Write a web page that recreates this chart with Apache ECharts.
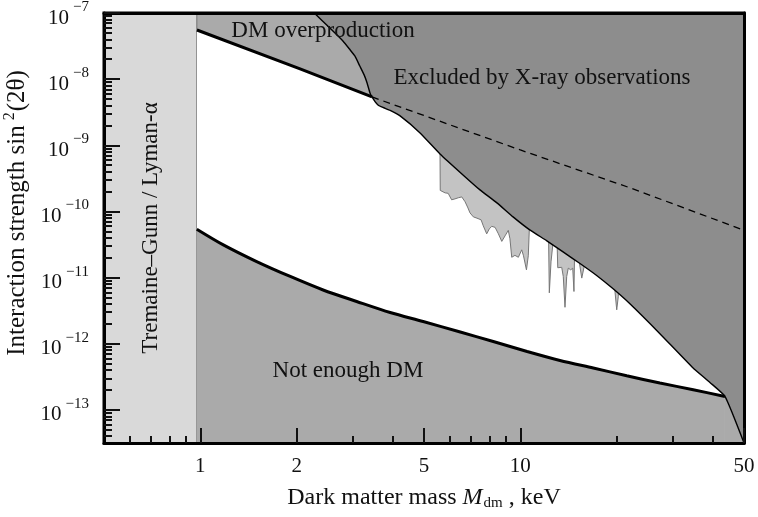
<!DOCTYPE html>
<html>
<head>
<meta charset="utf-8">
<script src="https://cdn.jsdelivr.net/npm/echarts@6/dist/echarts.min.js"></script>
<style>
  html, body { margin: 0; padding: 0; background: #fff; }
  #chart { width: 758px; height: 517px; }
</style>
</head>
<body>
<div id="chart"></div>
<script>
// Sterile-neutrino dark matter: allowed window in mass vs. mixing-angle plane (log-log)

const massRange = [0.5, 50];              // keV
const strengthRange = [3.162e-14, 1e-7];  // sin^2(2θ)
const tremaineGunnLimit = 0.975;          // keV

// Upper production curve (too much dark matter above it)
const overproductionMass = [0.976, 2.05, 3.44, 10, 22, 50];
const overproductionStrength = [5.53e-8, 1.43e-8, 5.38e-9, 8.5e-10, 2.28e-10, 5.2e-11];
const overproductionSolidCount = 3;       // solid up to the X-ray bound, dashed beyond

// Lower production curve (not enough dark matter below it)
const underproductionMass = [0.975, 1.18, 1.5, 1.91, 2.42, 3.08, 3.92, 4.97, 6.45, 8.23,
  10.5, 13.3, 16.9, 21.5, 27.3, 34.7, 43.6];
const underproductionStrength = [5.4e-11, 3.13e-11, 1.75e-11, 1.04e-11, 6.5e-12, 4.36e-12,
  2.97e-12, 2.17e-12, 1.52e-12, 1.08e-12, 7.65e-13, 5.6e-13, 4.3e-13, 3.29e-13, 2.55e-13,
  2.02e-13, 1.6e-13];

// X-ray exclusion boundary
const xrayMass = [2.27, 2.54, 2.79, 2.94, 3.04, 3.15, 3.25, 3.32, 3.39, 3.44, 3.52, 3.59,
  3.72, 3.92, 4.21, 4.86, 5.61, 6.62, 7.48, 8.45, 9.49, 10.7, 12.1, 13.6, 15.4, 17.4, 19.5,
  22.0, 27.3, 34.6, 39.2, 43.6, 50];
const xrayStrength = [1e-7, 5.93e-8, 3.78e-8, 2.76e-8, 2.24e-8, 1.58e-8, 1.16e-8, 8.77e-9,
  6.19e-9, 5.38e-9, 4.53e-9, 4.07e-9, 3.74e-9, 3.37e-9, 2.78e-9, 1.54e-9, 7.41e-10, 3.57e-10,
  2.12e-10, 1.35e-10, 8.29e-11, 5.27e-11, 3.6e-11, 2.45e-11, 1.62e-11, 1.06e-11, 6.77e-12,
  4.02e-12, 1.42e-12, 4.34e-13, 2.58e-13, 1.6e-13, 3.162e-14];

// Line-search exclusion (spiky lower edge)
const lineMass = [5.61, 5.62, 5.82, 5.95, 6.10, 6.25, 6.40, 6.56, 6.72, 6.86, 6.96, 7.13,
  7.32, 7.54, 7.66, 7.85, 8.00, 8.14, 8.34, 8.54, 8.75, 8.96, 9.17, 9.28, 9.40, 9.62, 9.86,
  10.1, 10.23, 10.45, 10.59, 10.67, 10.7, 11.52, 12.25, 12.32, 12.47, 12.68, 13.02, 13.09,
  13.47, 13.62, 13.79, 13.96, 14.12, 14.37, 14.58, 14.71, 14.77, 15.25, 15.31, 15.56, 15.81,
  15.87, 19.70, 19.77, 20.01, 20.24, 20.27];
const lineStrength = [8.52e-10, 2.08e-10, 1.91e-10, 1.88e-10, 1.50e-10, 1.55e-10, 1.61e-10,
  1.66e-10, 1.40e-10, 1.13e-10, 9.53e-11, 8.29e-11, 7.92e-11, 7.47e-11, 6.06e-11, 4.59e-11,
  5.46e-11, 5.96e-11, 5.75e-11, 4.59e-11, 3.53e-11, 4.28e-11, 5.18e-11, 3.86e-11, 2.03e-11,
  2.17e-11, 2.03e-11, 2.63e-11, 2.14e-11, 1.31e-11, 2.14e-11, 5.46e-11, 8.88e-11, 6.28e-11,
  4.43e-11, 5.89e-12, 1.73e-11, 3.72e-11, 3.72e-11, 1.41e-11, 1.43e-11, 1.04e-11, 3.56e-12,
  1.04e-11, 1.39e-11, 1.31e-11, 1.39e-11, 6.17e-12, 2.21e-11, 2.06e-11, 1.62e-11, 9.83e-12,
  1.43e-11, 1.73e-11, 8.35e-12, 6.0e-12, 3.26e-12, 5.22e-12, 7.01e-12];

// Axis ticks
const xTickLabels = [1, 2, 5, 10, 50];
const xMinorTicks = [0.6, 0.7, 0.8, 0.9, 3, 4, 6, 7, 8, 9, 20, 30, 40];
const yTickPowers = [-13, -12, -11, -10, -9, -8, -7];
const yMinorFactors = [2, 3, 4, 5, 6, 7, 8, 9];

// Both axes are logarithmic: values are plotted by their base-10 logarithm.
const lg = Math.log10;
const pairs = (xs, ys) => xs.map((x, i) => [lg(x), lg(ys[i])]);

const yMin = lg(strengthRange[0]), yMax = lg(strengthRange[1]);
const yMinorTicks = [];
for (let p = -14; p < -7; p++) {
  yMinorFactors.forEach(k => {
    const v = p + lg(k);
    if (v > yMin && v < yMax) yMinorTicks.push(v);
  });
}

const SERIF = '"Liberation Serif", "Times New Roman", serif';
const INK = '#111';
const C_MID = '#aaaaaa', C_DARK = '#8d8d8d', C_LIGHT = '#d9d9d9', C_LINE = '#c3c3c3';

const xBase = {
  type: 'value', min: lg(massRange[0]), max: lg(massRange[1]),
  splitLine: { show: false }, z: 10
};
const yBase = {
  type: 'value', min: yMin, max: yMax,
  splitLine: { show: false }, z: 10
};
const frameLine = { show: true, onZero: false, lineStyle: { color: '#000', width: 3 } };
const noLine = { show: false, onZero: false };

const chart = echarts.init(document.getElementById('chart'), null, { renderer: 'canvas' });

const lineSeries = (data, style, z, smooth) => ({
  type: 'line', data, symbol: 'none', showSymbol: false, silent: true,
  smooth: smooth || false,
  lineStyle: style, z, animation: false
});
const fillSeries = (data, color, origin, z, smooth, extra) => Object.assign({
  type: 'line', data, symbol: 'none', showSymbol: false, silent: true,
  smooth: smooth || false,
  lineStyle: { opacity: 0 }, areaStyle: { color, opacity: 1, origin }, z, animation: false
}, extra || {});

const overPts = pairs(overproductionMass, overproductionStrength);
const underPts = pairs(underproductionMass, underproductionStrength);
const xrayPts = pairs(xrayMass, xrayStrength);
const SMOOTH_LOW = 0.3, SMOOTH_XRAY = 0.15;

chart.setOption({
  animation: false,
  backgroundColor: '#fff',
  grid: {
    left: 104, right: 14, top: 13, bottom: 74,
    outerBoundsMode: 'none', containLabel: false,
    show: true, backgroundColor: C_MID, borderColor: '#000', borderWidth: 3
  },
  xAxis: [
    Object.assign({}, xBase, {
      position: 'bottom',
      axisLine: frameLine,
      axisTick: { show: true, inside: true, length: 15, lineStyle: { color: INK, width: 2 },
        customValues: xTickLabels.map(lg) },
      axisLabel: { show: true, customValues: xTickLabels.map(lg), margin: 13,
        formatter: v => String(Math.round(Math.pow(10, v))),
        color: INK, fontFamily: SERIF, fontSize: 21 },
      name: 'Dark matter mass {i|M}{s|dm} , keV',
      nameLocation: 'middle', nameGap: 41,
      nameTextStyle: {
        color: INK, fontFamily: SERIF, fontSize: 24,
        rich: {
          i: { color: INK, fontFamily: SERIF, fontSize: 24, fontStyle: 'italic' },
          s: { color: INK, fontFamily: SERIF, fontSize: 15, padding: [12, 0, 0, 1] }
        }
      }
    }),
    Object.assign({}, xBase, {
      position: 'bottom', axisLine: noLine,
      axisTick: { show: true, inside: true, length: 7, lineStyle: { color: INK, width: 2 },
        customValues: xMinorTicks.map(lg) },
      axisLabel: { show: false }
    }),
    Object.assign({}, xBase, {
      position: 'top', axisLine: frameLine, axisTick: { show: false }, axisLabel: { show: false }
    })
  ],
  yAxis: [
    Object.assign({}, yBase, {
      position: 'left',
      axisLine: frameLine,
      axisTick: { show: true, inside: true, length: 16, lineStyle: { color: INK, width: 2 },
        customValues: yTickPowers },
      axisLabel: {
        show: true, customValues: yTickPowers, margin: 15,
        formatter: v => '{b|10}{e|\u2212' + Math.abs(Math.round(v)) + '}',
        rich: {
          b: { color: INK, fontFamily: SERIF, fontSize: 21, padding: [10, 0, 0, 0] },
          e: { color: INK, fontFamily: SERIF, fontSize: 15, padding: [0, 0, 12, 4] }
        }
      },
      name: 'Interaction strength sin{p|2}(2\u03b8)',
      nameLocation: 'middle', nameGap: 66, nameRotate: 90,
      nameTextStyle: {
        color: INK, fontFamily: SERIF, fontSize: 25, padding: [0, 0, 0, 30],
        rich: {
          p: { color: INK, fontFamily: SERIF, fontSize: 16, padding: [0, 1, 14, 5] }
        }
      }
    }),
    Object.assign({}, yBase, {
      position: 'left', axisLine: noLine,
      axisTick: { show: true, inside: true, length: 8, lineStyle: { color: INK, width: 2 },
        customValues: yMinorTicks },
      axisLabel: { show: false }
    }),
    Object.assign({}, yBase, {
      position: 'right', axisLine: frameLine, axisTick: { show: false }, axisLabel: { show: false }
    })
  ],
  series: [
    // window between the two production curves
    fillSeries(overPts, '#ffffff', 'start', 2, false, {
      markArea: {
        silent: true,
        itemStyle: { color: C_LIGHT, borderColor: '#8a8a8a', borderWidth: 1.5 },
        data: [[{ xAxis: lg(massRange[0]) }, { xAxis: lg(tremaineGunnLimit) }]]
      }
    }),
    // not enough dark matter
    fillSeries(underPts, C_MID, 'start', 3, SMOOTH_LOW),
    fillSeries(xrayPts.slice(-2), C_MID, 'start', 3),
    // line-search exclusion
    Object.assign(fillSeries(pairs(lineMass, lineStrength), C_LINE, 'end', 4),
      { lineStyle: { color: '#767676', width: 1 } }),
    // X-ray exclusion
    fillSeries(xrayPts, C_DARK, 'end', 5, SMOOTH_XRAY),
    // boundary curves
    lineSeries(overPts.slice(0, overproductionSolidCount), { color: '#000', width: 3 }, 6),
    lineSeries(overPts.slice(overproductionSolidCount - 1), { color: '#000', width: 1.3, type: [7, 5] }, 6),
    lineSeries(underPts, { color: '#000', width: 3 }, 6, SMOOTH_LOW),
    lineSeries(xrayPts, { color: '#000', width: 1.4 }, 6, SMOOTH_XRAY)
  ],
  graphic: [
    { type: 'text', x: 323, y: 31, z: 20, silent: true,
      style: { text: 'DM overproduction', fill: INK, font: '23px ' + SERIF, align: 'center', verticalAlign: 'middle' } },
    { type: 'text', x: 542, y: 78, z: 20, silent: true,
      style: { text: 'Excluded by X-ray observations', fill: INK, font: '23px ' + SERIF, align: 'center', verticalAlign: 'middle' } },
    { type: 'text', x: 348, y: 371, z: 20, silent: true,
      style: { text: 'Not enough DM', fill: INK, font: '23px ' + SERIF, align: 'center', verticalAlign: 'middle' } },
    { type: 'text', x: 151, y: 228, z: 20, silent: true, rotation: Math.PI / 2,
      style: { text: 'Tremaine\u2013Gunn / Lyman-\u03b1', fill: INK, font: '23px ' + SERIF, align: 'center', verticalAlign: 'middle' } }
  ]
});
</script>
</body>
</html>
